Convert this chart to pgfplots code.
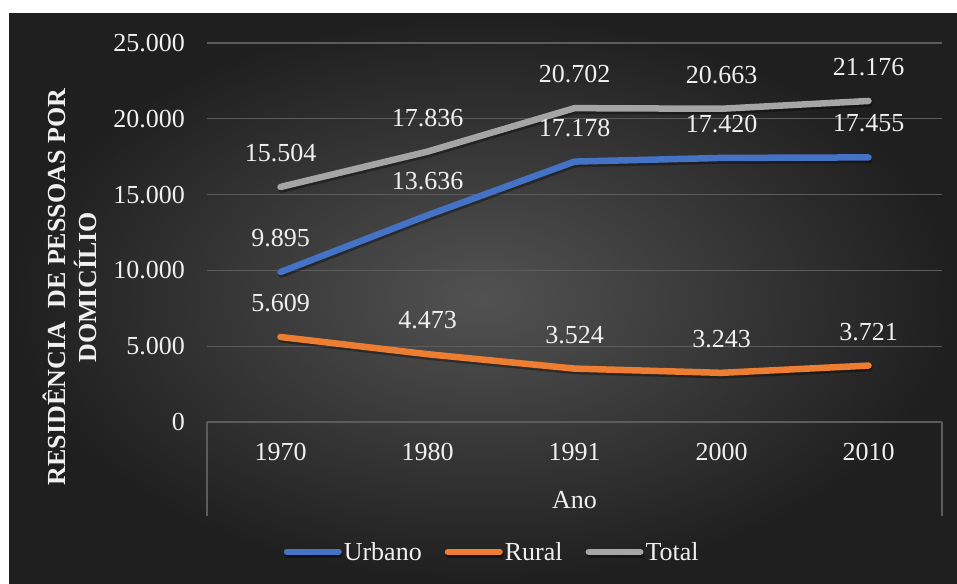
\documentclass[border=0pt]{standalone}
\usepackage{pgfplots}
\pgfplotsset{compat=1.18}
\usepackage{fontspec}
\setmainfont{Liberation Serif}
\newfontfamily\tnr{Liberation Serif}
\definecolor{cUrb}{HTML}{4472C4}
\definecolor{cRur}{HTML}{ED7D31}
\definecolor{cTot}{HTML}{A5A5A5}
\definecolor{gridc}{HTML}{5C5C5C}
\definecolor{txt}{HTML}{F0F0F0}
\newcommand{\cf}{\tnr\fontsize{26}{31}\selectfont}
\begin{document}
\begin{tikzpicture}[font=\cf]
\fill[white] (0pt,0pt) rectangle (957pt,-583pt);
\shade[inner color=black!68!white, outer color=black!88!white] (9pt,-14pt) rectangle (957pt,-583pt);
\begin{axis}[
  scale only axis,
  width=735pt, height=379pt,
  at={(207pt,-422pt)}, anchor=south west,
  xmin=-0.5, xmax=4.5, ymin=0, ymax=25000,
  xtick={0,1,2,3,4},
  xticklabels={1970,1980,1991,2000,2010},
  ytick={0,5000,10000,15000,20000,25000},
  axis line style={draw=none},
  major tick length=0pt,
  ymajorgrids,
  grid style={gridc, line width=1.2pt},
  tick label style={text=txt, font=\cf},
  /pgf/number format/.cd, 1000 sep={.}, assume math mode=true, /pgfplots/.cd,
  scaled y ticks=false,
  yticklabel style={anchor=east, inner sep=0pt, xshift=-22pt},
  xticklabel style={anchor=north, inner sep=0pt, yshift=-21pt},
  xlabel={Ano},
  every axis x label/.style={at={(rel axis cs:0.5,-0.206)}, anchor=center, text=txt, font=\cf},
  ylabel={RESIDÊNCIA\hspace{7pt} DE PESSOAS POR\\DOMICÍLIO},
  every axis y label/.style={at={(rel axis cs:-0.1865,0.356)}, anchor=center, rotate=90, align=center, text=txt, font=\cf\bfseries},
  clip=false,
  nodes near coords,
  every node near coord/.append style={anchor=base, inner sep=0pt, yshift=25.5pt, text=txt, font=\cf},
  legend columns=3,
  legend style={at={(0.388,-0.343)}, anchor=center, draw=none, fill=none, text=txt, font=\cf,
    /tikz/every even column/.append style={column sep=21pt}},
  legend image code/.code={\draw[#1, line width=6pt, line cap=round] (0pt,0pt) -- (52pt,0pt);},
  every axis plot/.append style={line width=6.5pt, line cap=round, line join=round,
    preaction={draw, black, opacity=0.35, transform canvas={xshift=1pt, yshift=-2.5pt}}},
]
\addplot[cUrb] coordinates {(0,9895) (1,13636) (2,17178) (3,17420) (4,17455)};
\addlegendentry{Urbano}
\addplot[cRur] coordinates {(0,5609) (1,4473) (2,3524) (3,3243) (4,3721)};
\addlegendentry{Rural}
\addplot[cTot] coordinates {(0,15504) (1,17836) (2,20702) (3,20663) (4,21176)};
\addlegendentry{Total}
\draw[gridc, line width=1.2pt] (axis cs:-0.5,0) -- ++(0pt,-94pt);
\draw[gridc, line width=1.2pt] (axis cs:4.5,0) -- ++(0pt,-94pt);
\end{axis}
\pgfresetboundingbox
\useasboundingbox (0pt,0pt) rectangle (957pt,-583pt);
\end{tikzpicture}
\end{document}
